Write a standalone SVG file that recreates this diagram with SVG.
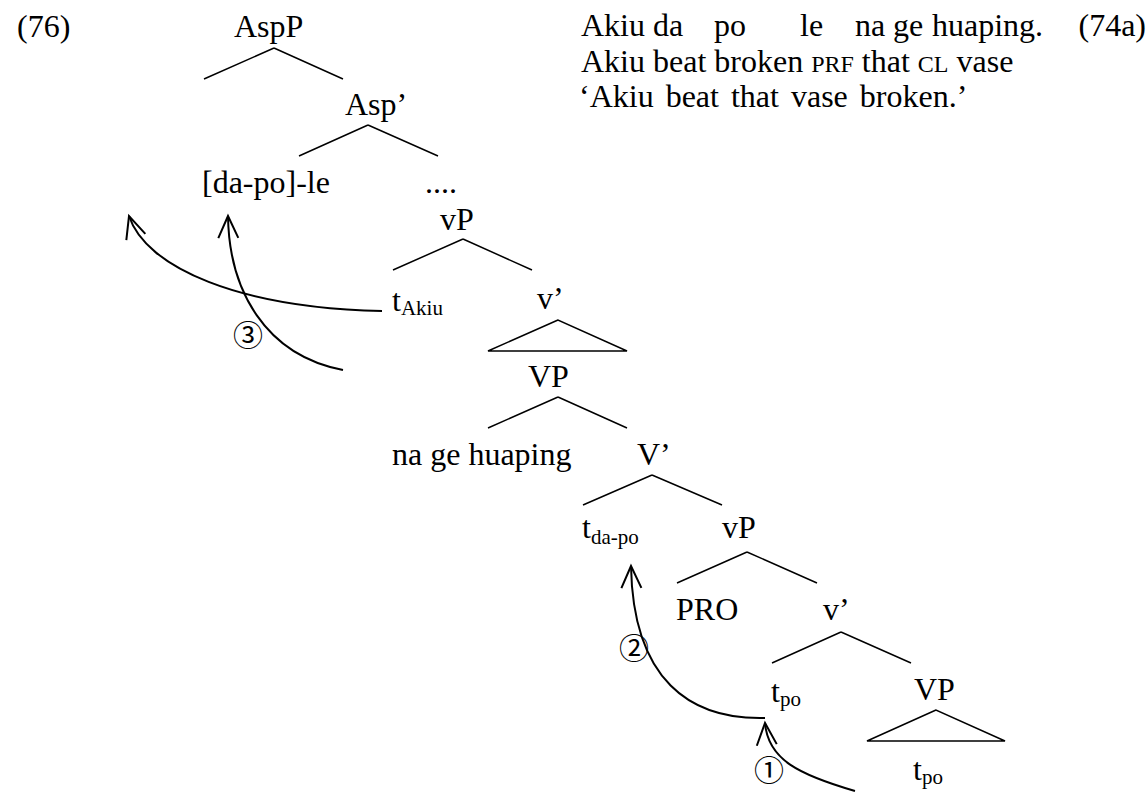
<svg xmlns="http://www.w3.org/2000/svg" width="1148" height="793" viewBox="0 0 1148 793">
<style>
.t{font-family:"Liberation Serif","Times New Roman",serif;font-size:32px;fill:#000}
.s{font-size:21px}
.sc{font-size:24px}
.n{font-family:"Noto Sans CJK JP","DejaVu Sans",sans-serif;font-size:30px;fill:#000;text-anchor:middle;dominant-baseline:central}
.l{stroke:#000;stroke-width:1.5;fill:none}
.c{stroke:#000;stroke-width:2;fill:none}
</style>
<defs>
<marker id="ah" markerUnits="userSpaceOnUse" markerWidth="40" markerHeight="40" viewBox="-30 -20 40 40" refX="0" refY="0" orient="auto" overflow="visible">
<path d="M-22,-10 L0,0 L-22,10" fill="none" stroke="#000" stroke-width="2"/>
</marker>
</defs>
<rect width="1148" height="793" fill="#fff"/>
<g id="example-number"><text class="t" x="17" y="37">(76)</text></g>
<g id="gloss">
<text class="t" y="36"><tspan x="581">Akiu</tspan><tspan x="653">da</tspan><tspan x="714">po</tspan><tspan x="800">le</tspan><tspan x="855">na</tspan><tspan x="893">ge</tspan><tspan x="932">huaping.</tspan><tspan x="1146" text-anchor="end">(74a)</tspan></text>
<text class="t" x="581" y="72">Akiu beat broken <tspan class="sc">PRF</tspan> that <tspan class="sc">CL</tspan> vase</text>
<text class="t" x="579" y="107" word-spacing="4">‘Akiu beat that vase broken.’</text>
</g>
<g id="connectors">
<path class="l" d="M274,48 L204,79 M274,48 L343,79"/>
<path class="l" d="M368,125 L299,156 M368,125 L438,156"/>
<path class="l" d="M463,239 L393,270 M463,239 L532,270"/>
<path class="l" d="M558,320 L488,351 L627,351 Z"/>
<path class="l" d="M558,397 L488,428 M558,397 L627,428"/>
<path class="l" d="M652,475 L583,505 M652,475 L722,505"/>
<path class="l" d="M747,552 L677,583 M747,552 L817,583"/>
<path class="l" d="M841,632 L772,663 M841,632 L911,663"/>
<path class="l" d="M936,710 L867,741 L1005,741 Z"/>
<path class="c" d="M382,311 C240,308 146,268 129,216" marker-end="url(#ah)"/>
<path class="c" d="M343,370 C265,355 229,290 228,216" marker-end="url(#ah)"/>
<path class="c" d="M765,718 C690,720 633,680 631,566" marker-end="url(#ah)"/>
<path class="c" d="M855,791 C800,775 768,760 765,723" marker-end="url(#ah)"/>
<text class="n" x="769" y="768">①</text>
<text class="n" x="634" y="646">②</text>
<text class="n" x="248" y="333">③</text>
</g>
<g id="AspP"><text class="t" x="234" y="37">AspP</text></g>
<g id="Asp-bar"><text class="t" x="345" y="115">Asp’</text></g>
<g id="dapo-le"><text class="t" x="202" y="193">[da-po]-le</text></g>
<g id="dots"><text class="t" x="425" y="193">....</text></g>
<g id="vP1"><text class="t" x="440" y="230">vP</text></g>
<g id="tAkiu"><text class="t" x="392" y="311">t<tspan class="s" dy="4">Akiu</tspan></text></g>
<g id="v-bar1"><text class="t" x="537" y="309">v’</text></g>
<g id="VP1"><text class="t" x="528" y="387">VP</text></g>
<g id="nagehuaping"><text class="t" x="392" y="465">na ge huaping</text></g>
<g id="V-bar"><text class="t" x="637" y="465">V’</text></g>
<g id="tdapo"><text class="t" x="582" y="538">t<tspan class="s" dy="6">da-po</tspan></text></g>
<g id="vP2"><text class="t" x="722" y="538">vP</text></g>
<g id="PRO"><text class="t" x="676" y="620">PRO</text></g>
<g id="v-bar2"><text class="t" x="823" y="620">v’</text></g>
<g id="tpo1"><text class="t" x="771" y="702">t<tspan class="s" dy="4">po</tspan></text></g>
<g id="VP2"><text class="t" x="914" y="700">VP</text></g>
<g id="tpo2"><text class="t" x="913" y="780">t<tspan class="s" dy="4">po</tspan></text></g>
</svg>
